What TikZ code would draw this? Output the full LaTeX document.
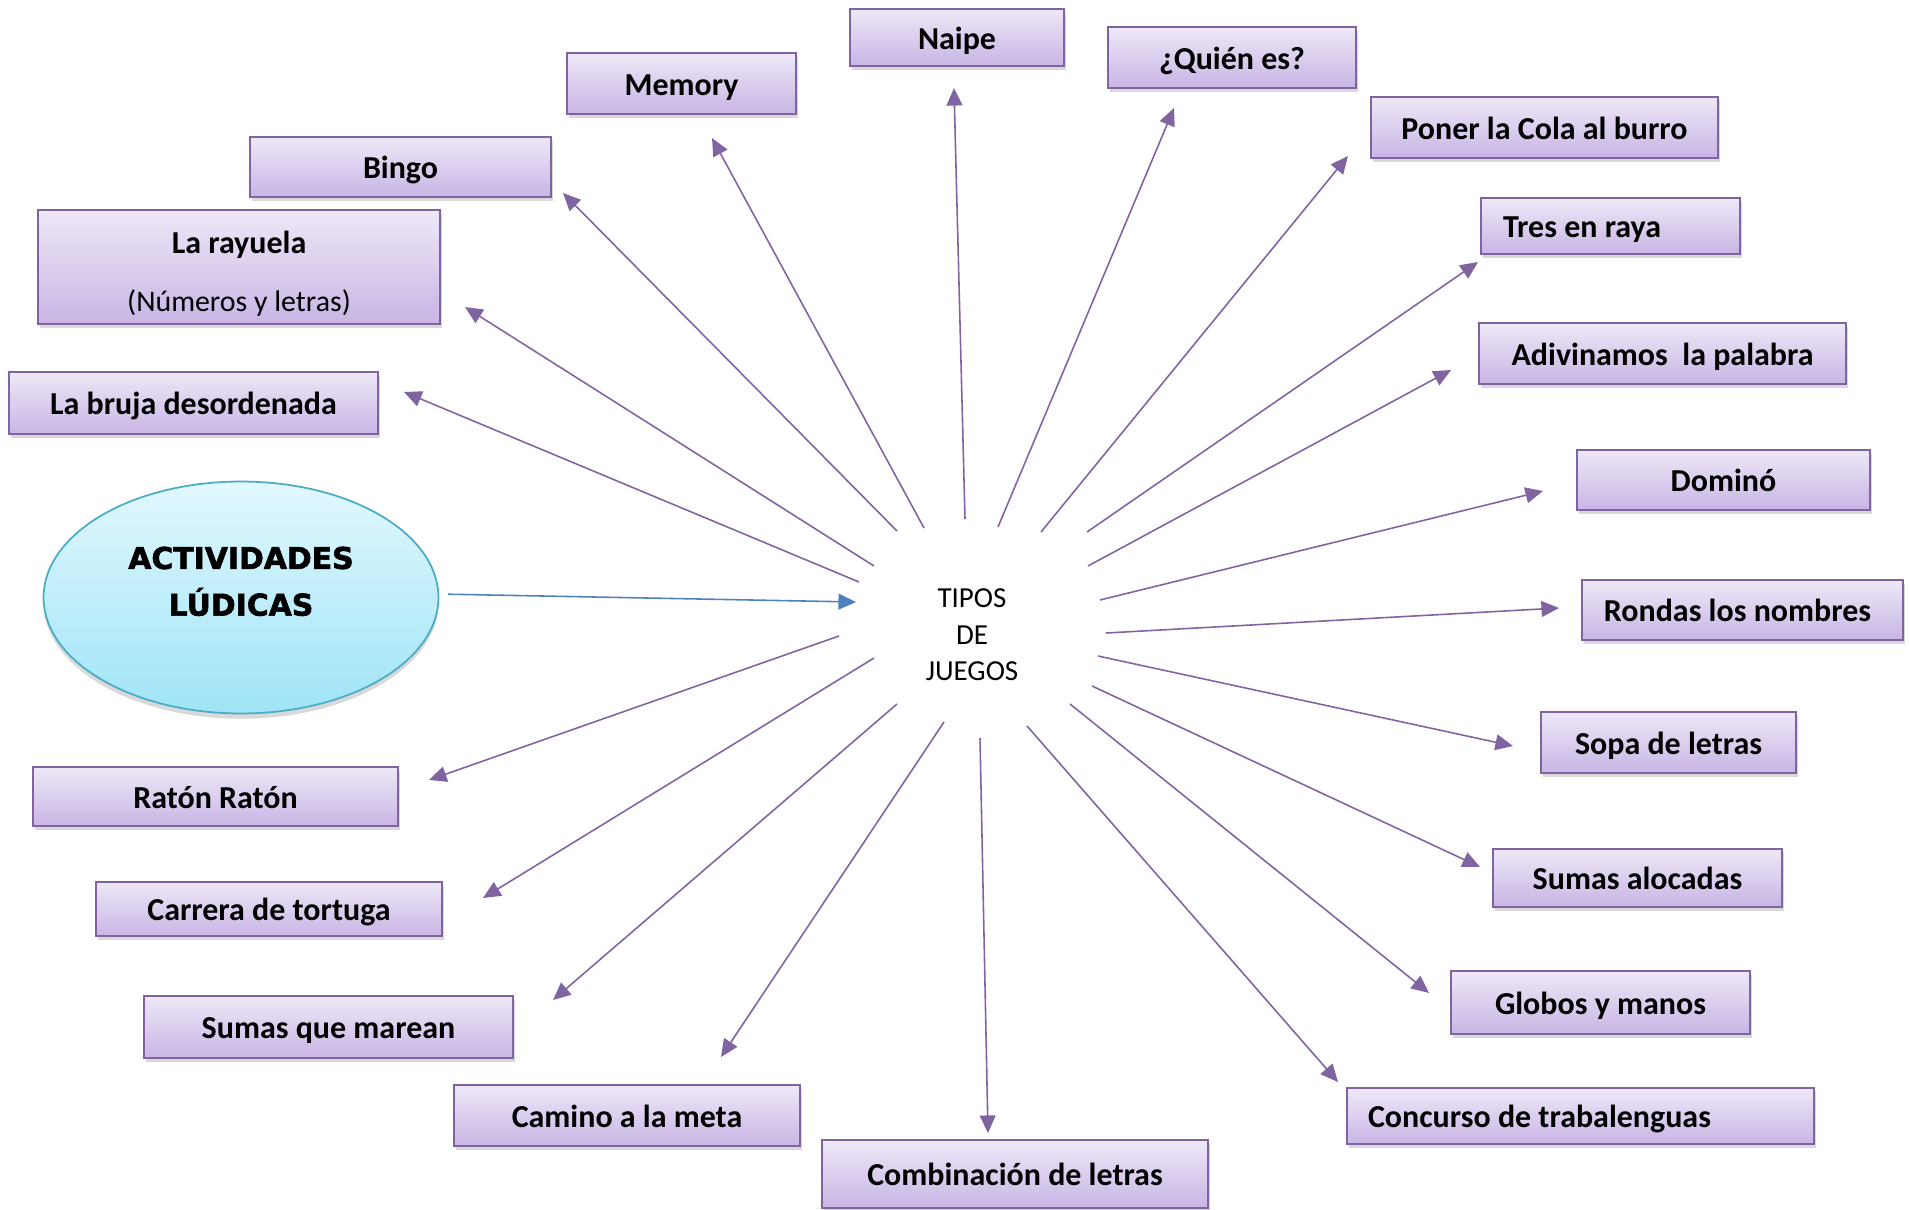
\documentclass[tikz,border=0pt]{standalone}
\usepackage{fontspec}
\setmainfont{Carlito}
\newfontfamily\titulofont[BoldFeatures={FakeBold=2}]{DejaVu Sans}
\usetikzlibrary{arrows.meta,shadows,shapes.geometric}

\definecolor{cajaborde}{HTML}{8064A2}
\definecolor{cajaarriba}{HTML}{EEE8F7}
\definecolor{cajaabajo}{HTML}{C8B5E5}
\definecolor{ovaloborde}{HTML}{4BACC6}
\definecolor{ovaloarriba}{HTML}{E2F8FE}
\definecolor{ovaloabajo}{HTML}{9FE4F7}
\definecolor{flechamorada}{HTML}{8064A2}
\definecolor{flechaazul}{HTML}{4F81BD}

\tikzset{
	caja/.style={draw=cajaborde, line width=0.9pt, top color=cajaarriba, bottom color=cajaabajo, inner sep=0pt,
		font=\bfseries\fontsize{18.2}{21.8}\selectfont,
		drop shadow={shadow xshift=1pt, shadow yshift=-2.5pt, opacity=0.3}},
	renglon/.style={text height=13.5pt, text depth=0pt},
	flecha/.style={draw=flechamorada, line width=0.9pt, -{Triangle[length=10pt,width=9pt]}},
}

\begin{document}
\begin{tikzpicture}[x=0.02cm, y=-0.02cm]
		\useasboundingbox (0,0) rectangle (1910,1210);
		
		\node[ellipse, draw=ovaloborde, line width=1pt, top color=ovaloarriba, bottom color=ovaloabajo, minimum width=7.9cm, minimum height=4.64cm, drop shadow={shadow xshift=0pt, shadow yshift=-3pt, opacity=0.3}, font=\titulofont\bfseries\fontsize{17}{26.6}\selectfont] (ludicas) at (241,597.5) {\raisebox{0pt}[22pt][30pt]{\begin{tabular}{@{}c@{}}ACTIVIDADES\\LÚDICAS\end{tabular}}};
		\node[font=\fontsize{16.5}{20.7}\selectfont, align=center] (tipos) at (972,635) {TIPOS\\DE\\JUEGOS};
		
		\node[caja, minimum width=8.04cm, minimum height=2.28cm, align=center] (rayuela) at (239,267) {\rule{0pt}{20.4pt}La rayuela\\[11pt]{\mdseries\fontsize{17}{21.8}\selectfont (Números y letras)}};
		\node[caja, renglon, minimum width=6.02cm, minimum height=1.2cm] (bingo) at (400.5,167) {Bingo};
		\node[caja, renglon, minimum width=4.58cm, minimum height=1.22cm] (memory) at (681.5,83.5) {Memory};
		\node[caja, renglon, minimum width=4.28cm, minimum height=1.14cm] (naipe) at (957,37.5) {Naipe};
		\node[caja, renglon, minimum width=4.96cm, minimum height=1.22cm] (quien) at (1232,57.5) {¿Quién es?};
		\node[caja, renglon, minimum width=6.94cm, minimum height=1.22cm] (poner) at (1544.5,127.5) {Poner la Cola al burro};
		\node[caja, renglon, minimum width=5.18cm, minimum height=1.12cm] (tres) at (1610.5,226) {\makebox[4.3cm][l]{Tres en raya}};
		\node[caja, renglon, minimum width=7.34cm, minimum height=1.22cm] (adivinamos) at (1662.5,353.5) {Adivinamos\ \ la palabra};
		\node[caja, renglon, minimum width=5.86cm, minimum height=1.2cm] (domino) at (1723.5,480) {Dominó};
		\node[caja, renglon, minimum width=6.42cm, minimum height=1.2cm] (rondas) at (1742.5,610) {\makebox[6.2cm]{Rondas los nombres\hspace{0.2cm}}};
		\node[caja, renglon, minimum width=5.1cm, minimum height=1.22cm] (sopa) at (1668.5,742.5) {Sopa de letras};
		\node[caja, renglon, minimum width=5.78cm, minimum height=1.16cm] (sumasalocadas) at (1637.5,878) {Sumas alocadas};
		\node[caja, renglon, minimum width=5.98cm, minimum height=1.26cm] (globos) at (1600.5,1002.5) {Globos y manos};
		\node[caja, renglon, minimum width=9.34cm, minimum height=1.12cm] (concurso) at (1580.5,1116) {\makebox[8.5cm][l]{Concurso de trabalenguas}};
		\node[caja, renglon, minimum width=7.72cm, minimum height=1.36cm] (combinacion) at (1015,1174) {Combinación de letras};
		\node[caja, renglon, minimum width=6.92cm, minimum height=1.22cm] (camino) at (627,1115.5) {Camino a la meta};
		\node[caja, renglon, minimum width=7.38cm, minimum height=1.24cm] (sumasmarean) at (328.5,1027) {Sumas que marean};
		\node[caja, renglon, minimum width=6.92cm, minimum height=1.08cm] (carrera) at (269,909) {Carrera de tortuga};
		\node[caja, renglon, minimum width=7.3cm, minimum height=1.18cm] (raton) at (215.5,796.5) {Ratón Ratón};
		\node[caja, renglon, minimum width=7.38cm, minimum height=1.24cm] (bruja) at (193.5,403) {La bruja desordenada};
		
		% extremos de las flechas
		\path (859,582) coordinate (ini-bruja) (404,392) coordinate (fin-bruja);
		\path (874,566) coordinate (ini-rayuela) (465,307) coordinate (fin-rayuela);
		\path (897,531) coordinate (ini-bingo) (563,193) coordinate (fin-bingo);
		\path (924,528) coordinate (ini-memory) (712,138) coordinate (fin-memory);
		\path (965,519) coordinate (ini-naipe) (954,88) coordinate (fin-naipe);
		\path (998,527) coordinate (ini-quien) (1174,108) coordinate (fin-quien);
		\path (1041,532) coordinate (ini-poner) (1348,156) coordinate (fin-poner);
		\path (1087,532) coordinate (ini-tres) (1478,262) coordinate (fin-tres);
		\path (1088,566) coordinate (ini-adivinamos) (1451,370) coordinate (fin-adivinamos);
		\path (1100,600) coordinate (ini-domino) (1543,491) coordinate (fin-domino);
		\path (1106,633) coordinate (ini-rondas) (1559,608) coordinate (fin-rondas);
		\path (1098,656) coordinate (ini-sopa) (1513,746) coordinate (fin-sopa);
		\path (1092,686) coordinate (ini-sumasalocadas) (1480,867) coordinate (fin-sumasalocadas);
		\path (1070,704) coordinate (ini-globos) (1429,993) coordinate (fin-globos);
		\path (1027,726) coordinate (ini-concurso) (1338,1082) coordinate (fin-concurso);
		\path (980,738) coordinate (ini-combinacion) (988,1133) coordinate (fin-combinacion);
		\path (944,722) coordinate (ini-camino) (721,1057) coordinate (fin-camino);
		\path (897,704) coordinate (ini-sumasmarean) (553,1000) coordinate (fin-sumasmarean);
		\path (874,658) coordinate (ini-carrera) (483,898) coordinate (fin-carrera);
		\path (839,636) coordinate (ini-raton) (429,780) coordinate (fin-raton);
		\coordinate (fin-ludicas) at (856,602);
		
		\draw[flecha, draw=flechaazul, shorten <=5pt] (ludicas.1.6) to (fin-ludicas);
		\draw[flecha] (ini-bruja) to (fin-bruja);
		\draw[flecha] (ini-rayuela) to (fin-rayuela);
		\draw[flecha] (ini-bingo) to (fin-bingo);
		\draw[flecha] (ini-memory) to (fin-memory);
		\draw[flecha] (ini-naipe) to (fin-naipe);
		\draw[flecha] (ini-quien) to (fin-quien);
		\draw[flecha] (ini-poner) to (fin-poner);
		\draw[flecha] (ini-tres) to (fin-tres);
		\draw[flecha] (ini-adivinamos) to (fin-adivinamos);
		\draw[flecha] (ini-domino) to (fin-domino);
		\draw[flecha] (ini-rondas) to (fin-rondas);
		\draw[flecha] (ini-sopa) to (fin-sopa);
		\draw[flecha] (ini-sumasalocadas) to (fin-sumasalocadas);
		\draw[flecha] (ini-globos) to (fin-globos);
		\draw[flecha] (ini-concurso) to (fin-concurso);
		\draw[flecha] (ini-combinacion) to (fin-combinacion);
		\draw[flecha] (ini-camino) to (fin-camino);
		\draw[flecha] (ini-sumasmarean) to (fin-sumasmarean);
		\draw[flecha] (ini-carrera) to (fin-carrera);
		\draw[flecha] (ini-raton) to (fin-raton);
		
\end{tikzpicture}
\end{document}
